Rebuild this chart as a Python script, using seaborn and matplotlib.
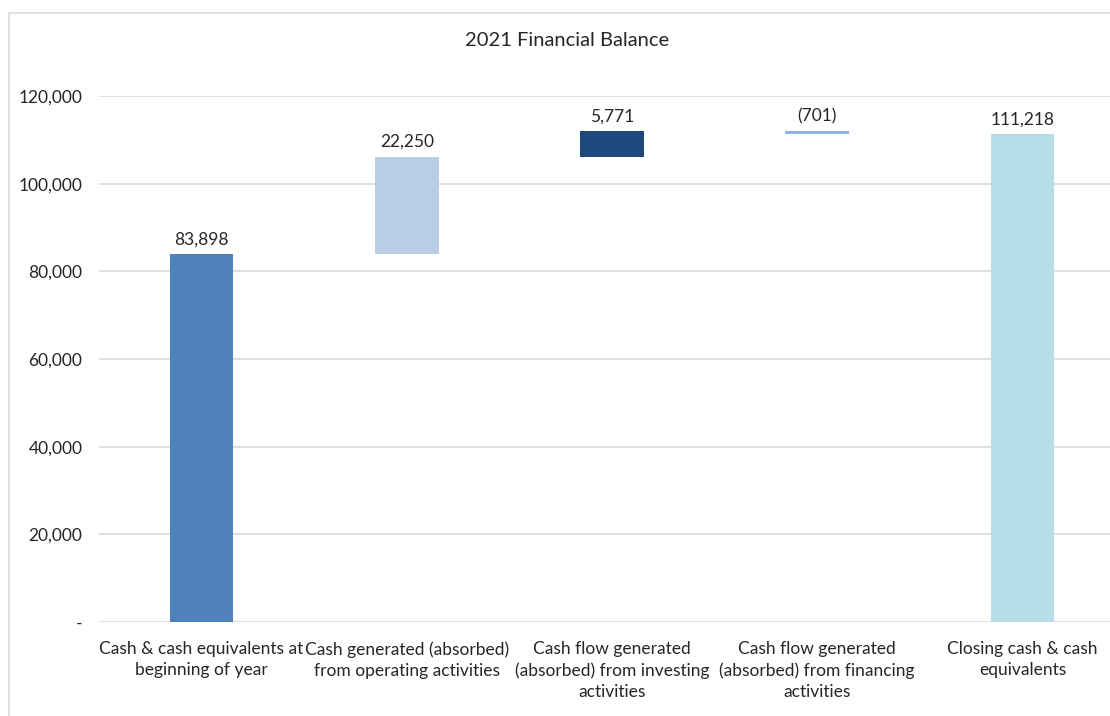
import numpy as np
import pandas as pd
import matplotlib
matplotlib.use("Agg")
import matplotlib.pyplot as plt
from matplotlib.patches import Rectangle
from matplotlib.ticker import FuncFormatter
import seaborn as sns

# Cash flow waterfall for 2021
categories = [
    "Cash & cash equivalents at\nbeginning of year",
    "Cash generated (absorbed)\nfrom operating activities",
    "Cash flow generated\n(absorbed) from investing\nactivities",
    "Cash flow generated\n(absorbed) from financing\nactivities",
    "Closing cash & cash\nequivalents",
]
values = [83898, 22250, 5771, -701, 111218]
is_total = [True, False, False, False, True]
bar_colors = ["#4F81BD", "#B9CDE5", "#1F497D", "#8DB4E2", "#B7DDE8"]
title = "2021 Financial Balance"
y_ticks = [0, 20000, 40000, 60000, 80000, 100000, 120000]

# Floating bar geometry: running total for the flows, from zero for totals
bases, heights, tops = [], [], []
running = 0
for v, tot in zip(values, is_total):
    if tot:
        bases.append(0)
        heights.append(v)
        tops.append(v)
        running = v
    else:
        start = running
        running = running + v
        bases.append(min(start, running))
        heights.append(abs(v))
        tops.append(max(start, running))

df = pd.DataFrame({"category": categories, "height": heights, "base": bases})

sns.set_theme(style="white")
plt.rcParams["font.family"] = ["Lato", "DejaVu Sans"]
text_color = "#262626"
grid_color = "#D9D9D9"

fig = plt.figure(figsize=(11.10, 7.16), dpi=100)
fig.patch.set_facecolor("white")

# Chart area outline
fig.add_artist(Rectangle((9 / 1110, -0.05), 1.2, 1 - 13 / 716 + 0.05,
                         transform=fig.transFigure, fill=False,
                         edgecolor=grid_color, linewidth=1.2))

ax = fig.add_axes([99 / 1110, 1 - 622 / 716, 1026 / 1110, 526 / 716])

sns.barplot(data=df, x="category", y="height", bottom=df["base"].to_numpy(),
            order=categories, color=bar_colors[0], width=0.31,
            errorbar=None, ax=ax, zorder=3, linewidth=0)
for patch, c in zip(ax.patches, bar_colors):
    patch.set_facecolor(c)
    patch.set_edgecolor(c)

ax.set_ylim(0, 120000)
ax.set_xlim(-0.5, len(categories) - 0.5)
ax.set_yticks(y_ticks)
ax.yaxis.set_major_formatter(FuncFormatter(lambda v, p: "-" if v == 0 else f"{v:,.0f}"))
ax.yaxis.grid(True, color=grid_color, linewidth=1.2, zorder=0)
ax.set_axisbelow(True)
for side in ["left", "right", "top", "bottom"]:
    ax.spines[side].set_visible(False)
ax.set_xlabel("")
ax.set_ylabel("")
ax.tick_params(axis="y", length=0, pad=12, labelsize=12.5, labelcolor=text_color)
ax.tick_params(axis="x", length=0, pad=14, labelsize=12.5, labelcolor=text_color)
for lbl in ax.get_xticklabels():
    lbl.set_linespacing(1.36)
    lbl.set_va("top")

# Value labels above each bar
for i, (v, top) in enumerate(zip(values, tops)):
    txt = f"({abs(v):,})" if v < 0 else f"{v:,}"
    ax.annotate(txt, (i, top), xytext=(0, 5), textcoords="offset points",
                ha="center", va="bottom", fontsize=12.5, color=text_color,
                clip_on=False)

fig.text(567 / 1110, 1 - 40 / 716, title, ha="center", va="center",
         fontsize=14.5, color=text_color)

fig.savefig("out.png", dpi=100)
